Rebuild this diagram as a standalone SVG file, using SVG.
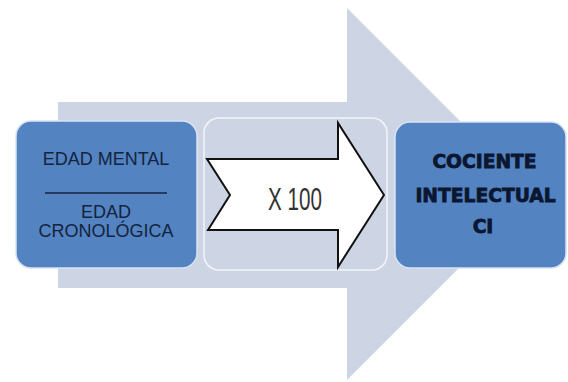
<svg xmlns="http://www.w3.org/2000/svg" width="568" height="382" viewBox="0 0 568 382">
  <style>
    .blue { fill: #5383c0; stroke: #d6e3f3; stroke-width: 1.5; }
    .mid { fill: #cdd4e4; stroke: #f2f5fa; stroke-width: 1.5; }
    .lt { font-family: "Liberation Sans", Arial, sans-serif; font-size: 18px; fill: #14233f; text-anchor: middle; }
    .bt { font-family: "DejaVu Sans", sans-serif; font-weight: bold; font-size: 18.7px; fill: #0b1630; stroke: #0b1630; stroke-width: 0.8; text-anchor: middle; }
  </style>
  <rect width="568" height="382" fill="#ffffff"/>
  <g id="connectors">
    <polygon id="big-arrow" points="58,102 347,102 347,8 533,194 347,380 347,288 58,288" fill="#cdd4e4"/>
  </g>
  <g id="node-edad">
    <rect class="blue" x="16" y="121" width="181" height="147" rx="15" ry="15"/>
    <text class="lt" x="106" y="165">EDAD MENTAL</text>
    <line x1="45" y1="193" x2="167" y2="193" stroke="#14233f" stroke-width="1.5"/>
    <text class="lt" x="106" y="218">EDAD</text>
    <text class="lt" x="106" y="236.5">CRONOLÓGICA</text>
  </g>
  <g id="node-x100">
    <rect class="mid" x="204" y="118" width="183" height="152" rx="15" ry="15"/>
    <polygon points="207,159 338,159 338,123 384,195 338,267 338,230 208,230 230,195" fill="#ffffff" stroke="#111111" stroke-width="2" stroke-linejoin="miter"/>
    <text x="295" y="210" font-family="Liberation Sans, Arial, sans-serif" font-size="32" fill="#333333" text-anchor="middle" textLength="54" lengthAdjust="spacingAndGlyphs">X 100</text>
  </g>
  <g id="node-ci">
    <rect class="blue" x="395" y="122" width="171" height="146" rx="15" ry="15"/>
    <text class="bt" x="484.5" y="168.3">COCIENTE</text>
    <text class="bt" x="485.5" y="201.7">INTELECTUAL</text>
    <text class="bt" x="483" y="233.3">CI</text>
  </g>
</svg>
